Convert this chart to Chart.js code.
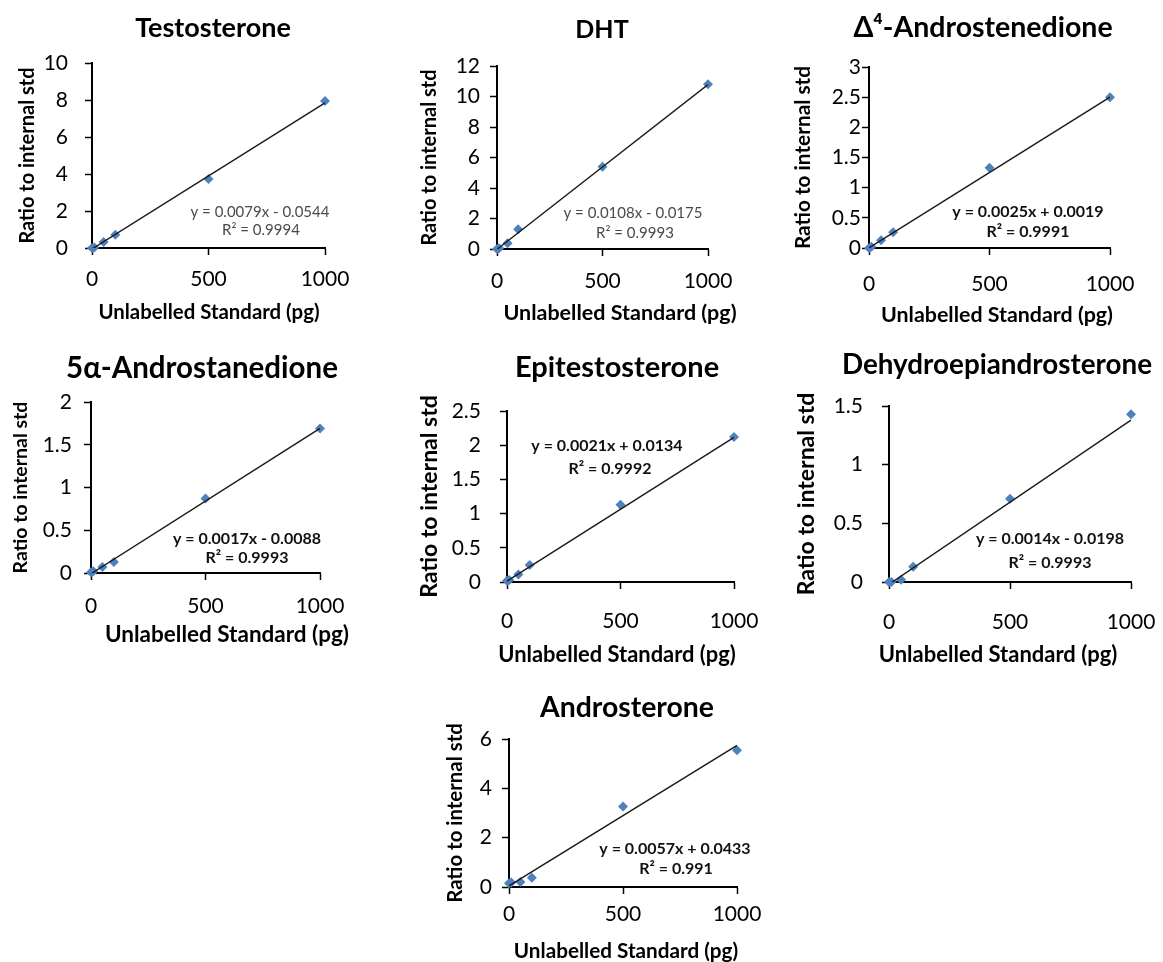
<!DOCTYPE html>
<html>
<head>
<meta charset="utf-8">
<script src="https://cdn.jsdelivr.net/npm/chart.js@4.4.0/dist/chart.umd.min.js"></script>
<style>
  html, body { margin: 0; padding: 0; background: #fff; overflow: hidden; }
  #page { position: relative; width: 1163px; height: 962px; }
  #page canvas { position: absolute; }
</style>
</head>
<body>
<div id="page"></div>
<script>
// ---------------- Datos ----------------
const xValues = [0, 10, 50, 100, 500, 1000];

const testosterone    = [0, 0.03, 0.32, 0.72, 3.73, 7.94];
const dht             = [0, 0.05, 0.37, 1.3, 5.4, 10.8];
const androstenedione = [0, 0.02, 0.13, 0.26, 1.33, 2.5];
const androstanedione = [0.01, 0.02, 0.07, 0.13, 0.87, 1.69];
const epitestosterone = [0.02, 0.03, 0.11, 0.25, 1.13, 2.12];
const dhea            = [0, 0, 0.02, 0.13, 0.71, 1.43];
const androsterone    = [0.15, 0.18, 0.2, 0.38, 3.26, 5.54];

const titles = ['Testosterone', 'DHT', 'Δ⁴-Androstenedione', '5α-Androstanedione',
                'Epitestosterone', 'Dehydroepiandrosterone', 'Androsterone'];
const series = [testosterone, dht, androstenedione, androstanedione, epitestosterone, dhea, androsterone];
const slopes     = [0.0079, 0.0108, 0.0025, 0.0017, 0.0021, 0.0014, 0.0057];
const intercepts = [-0.0544, -0.0175, 0.0019, -0.0088, 0.0134, -0.0198, 0.0433];
const rSquared   = ['0.9994', '0.9993', '0.9991', '0.9993', '0.9992', '0.9993', '0.991'];
const yMax  = [10, 12, 3, 2, 2.5, 1.5, 6];
const yStep = [2, 2, 0.5, 0.5, 0.5, 0.5, 2];

const xAxisTitle = 'Unlabelled Standard (pg)';
const yAxisTitle = 'Ratio to internal std';

// ---------------- Maquetación (px de página) ----------------
const FONT = "Lato, 'Open Sans', sans-serif";
const TICK_SIZE = 21;

const layouts = [
  { left: 0,   width: 426, plot: [92, 325, 63, 248],    title: [213, 28, 27],   yTitle: [28, 20],   xTitle: [209, 312, 20.4], eq: [[260, 212], [261, 230]],   yPad: 17, xPad: 12, eqBold: false },
  { left: 412, width: 380, plot: [497, 708, 66, 249],   title: [602, 30, 25],   yTitle: [430, 20],  xTitle: [620, 313, 21.5], eq: [[633, 213], [635, 233]],   yPad: 10, xPad: 13, eqBold: false },
  { left: 790, width: 386, plot: [869, 1110, 67, 248],  title: [983, 28, 28.5], yTitle: [803, 20.8], xTitle: [997, 315, 21.4], eq: [[1028, 212], [1028, 232]], yPad: 1,  xPad: 17, eqBold: true },
  { left: 0,   width: 404, plot: [91, 320, 402, 573],   title: [202, 368, 29.5], yTitle: [21, 19.5], xTitle: [227, 635, 22.5], eq: [[247, 539], [247, 558]],   yPad: 12, xPad: 14, eqBold: true },
  { left: 420, width: 394, plot: [507, 734, 411, 582],  title: [617, 368, 29],  yTitle: [430, 23],  xTitle: [617, 655, 21.9], eq: [[607, 446], [610, 469]],   yPad: 19, xPad: 20, eqBold: true },
  { left: 792, width: 410, plot: [889, 1131, 406, 582], title: [997, 365, 27.8], yTitle: [807, 23], xTitle: [998, 655, 22],   eq: [[1050, 539], [1050, 563]], yPad: 19, xPad: 21, eqBold: true },
  { left: 445, width: 364, plot: [509, 737, 739, 887],  title: [627, 708, 28.4], yTitle: [455, 20.4], xTitle: [626, 951, 20.7], eq: [[675, 849], [676, 869]],  yPad: 10, xPad: 8,  eqBold: true }
];

Chart.defaults.font.family = FONT;
Chart.defaults.color = '#000';

// ---------------- Texto extra (título, eje X y ecuación) ----------------
const annotationText = {
  id: 'annotationText',
  afterDraw(chart, args, opts) {
    const ctx = chart.ctx;
    ctx.save();
    ctx.textAlign = 'center';
    ctx.textBaseline = 'middle';
    ctx.fillStyle = '#000';
    ctx.font = `bold ${opts.titleSize}px ${FONT}`;
    ctx.fillText(opts.title, opts.titleX, opts.titleY);
    ctx.font = `bold ${opts.xTitleSize}px ${FONT}`;
    ctx.fillText(opts.xTitle, opts.xTitleX, opts.xTitleY);
    ctx.font = opts.eqBold ? `bold 16px ${FONT}` : `15px ${FONT}`;
    ctx.fillStyle = opts.eqBold ? '#111' : '#4a4a4a';
    opts.lines.forEach(l => ctx.fillText(l.text, l.x, l.y));
    ctx.restore();
  }
};

function equationText(i) {
  const sign = intercepts[i] < 0 ? '-' : '+';
  return `y = ${slopes[i].toFixed(4)}x ${sign} ${Math.abs(intercepts[i]).toFixed(4)}`;
}

function createCalibrationChart(i) {
  const lay = layouts[i];
  const [pl, pr, pt, pb] = lay.plot;
  const top = lay.title[1] - 26;
  const height = lay.xTitle[1] + 18 - top;
  const yTitleLH = lay.yTitle[1] * 1.2;

  const canvas = document.createElement('canvas');
  canvas.width = lay.width;
  canvas.height = height;
  canvas.style.left = lay.left + 'px';
  canvas.style.top = top + 'px';
  canvas.style.width = lay.width + 'px';
  canvas.style.height = height + 'px';
  document.getElementById('page').appendChild(canvas);

  const points = xValues.map((x, k) => ({ x, y: series[i][k] }));
  const trend = [0, 1000].map(x => ({ x, y: slopes[i] * x + intercepts[i] }));

  new Chart(canvas, {
    type: 'scatter',
    data: {
      datasets: [
        {
          data: trend,
          showLine: true,
          borderColor: '#1a1a1a',
          borderWidth: 1.4,
          pointRadius: 0,
          order: 0
        },
        {
          data: points,
          pointStyle: 'rectRot',
          pointRadius: 5,
          backgroundColor: '#4f81bd',
          borderColor: '#4f81bd',
          borderWidth: 0,
          clip: false,
          order: 1
        }
      ]
    },
    options: {
      responsive: false,
      animation: false,
      layout: { padding: { left: 0, top: pt - top, bottom: 0, right: lay.left + lay.width - pr } },
      plugins: {
        legend: { display: false },
        tooltip: { enabled: false },
        title: { display: false },
        annotationText: {
          title: titles[i],
          titleSize: lay.title[2],
          titleX: lay.title[0] - lay.left,
          titleY: lay.title[1] - top,
          xTitle: xAxisTitle,
          xTitleSize: lay.xTitle[2],
          xTitleX: lay.xTitle[0] - lay.left,
          xTitleY: lay.xTitle[1] - top,
          eqBold: lay.eqBold,
          lines: [
            { text: equationText(i), x: lay.eq[0][0] - lay.left, y: lay.eq[0][1] - top },
            { text: `R² = ${rSquared[i]}`, x: lay.eq[1][0] - lay.left, y: lay.eq[1][1] - top }
          ]
        }
      },
      scales: {
        x: {
          type: 'linear',
          min: 0,
          max: 1000,
          afterFit: s => { s.height = top + height - pb; },
          ticks: { stepSize: 500, padding: lay.xPad, color: '#000', font: { size: TICK_SIZE }, callback: v => String(v) },
          grid: { drawOnChartArea: false, drawTicks: true, tickLength: 7, tickColor: '#000', tickWidth: 1.5 },
          border: { display: true, color: '#000', width: 2 }
        },
        y: {
          min: 0,
          max: yMax[i],
          afterFit: s => { s.width = pl - lay.left; },
          ticks: { stepSize: yStep[i], padding: lay.yPad, color: '#000', font: { size: TICK_SIZE }, callback: v => String(v) },
          grid: { drawOnChartArea: false, drawTicks: true, tickLength: 7, tickColor: '#000', tickWidth: 1.5 },
          border: { display: true, color: '#000', width: 2 },
          title: {
            display: true,
            text: yAxisTitle,
            color: '#000',
            font: { size: lay.yTitle[1], weight: 'bold' },
            padding: { top: lay.yTitle[0] - lay.left - yTitleLH / 2, bottom: 0 }
          }
        }
      }
    },
    plugins: [annotationText]
  });
}

titles.forEach((t, i) => createCalibrationChart(i));
</script>
</body>
</html>
